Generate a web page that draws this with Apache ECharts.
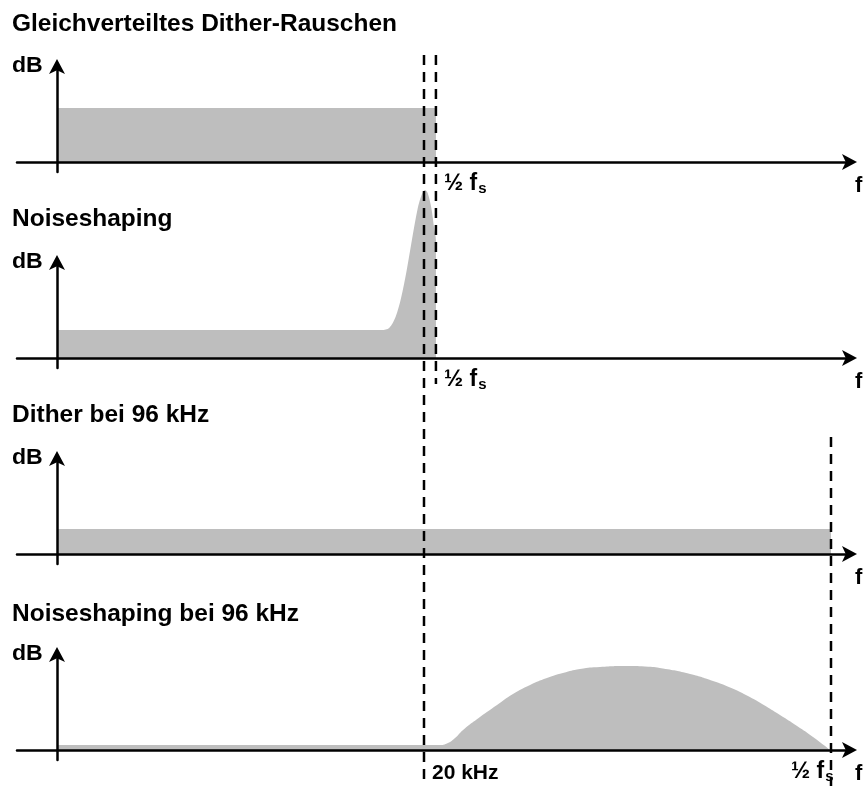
<!DOCTYPE html>
<html>
<head>
<meta charset="utf-8">
<script src="https://cdn.jsdelivr.net/npm/echarts@6/dist/echarts.min.js"></script>
<style>
html,body{margin:0;padding:0;background:#fff;}
#chart{width:863px;height:790px;}
</style>
</head>
<body>
<div id="chart"></div>
<script>
// ---------- DATA ----------
const panelTitles = ['Gleichverteiltes Dither-Rauschen', 'Noiseshaping', 'Dither bei 96 kHz', 'Noiseshaping bei 96 kHz'];
const yAxisName = 'dB';
const xAxisName = 'f';
const nyquistLabel = '½ f';
const nyquistSub = 's';
const label20k = '20 kHz';
// reference frequencies (relative frequency units, 20 kHz = 20)
const f20k = 20;
const nyq44 = 20.65;
const nyq96 = 42.18;
// spectra: [frequency, level]
const ditherFlat = [[0, 5.4], [20.65, 5.4], [20.65, 0]];
const noiseShaping = [[0, 2.8], [17.7, 2.8], [18.1, 3.0], [18.45, 4.1], [18.75, 6.0], [19.05, 8.7], [19.35, 11.9], [19.65, 14.9], [19.85, 16.2], [20.05, 16.8], [20.2, 16.5], [20.4, 15.0], [20.55, 13.0], [20.65, 11.8], [20.65, 0]];
const dither96 = [[0, 2.5], [42.18, 2.5], [42.18, 0]];
const noiseShaping96 = [[0, 0.5], [20.87, 0.5], [21.25, 0.65], [21.69, 1.2], [22.13, 2.0], [23.05, 3.3], [23.98, 4.5], [24.85, 5.6], [25.78, 6.5], [26.7, 7.2], [27.57, 7.7], [28.5, 8.1], [29.59, 8.3], [31.06, 8.4], [32.04, 8.35], [33.02, 8.15], [34.5, 7.6], [35.75, 6.9], [36.68, 6.25], [37.6, 5.45], [38.47, 4.55], [39.4, 3.5], [40.33, 2.4], [41.2, 1.3], [42.13, 0]];

// ---------- LAYOUT ----------
const W = 863, H = 790;
const xMin = -2.18, xMax = 43.27;
const gridLeft = 17, gridRight = 12;
const baselines = [162, 358, 554, 750];
const yMin = -1, yMax = 9.7, pxPerUnit = 10;
const fillColor = '#bebebe';
const FONT = '"Liberation Sans", Arial, Helvetica, sans-serif';

const grids = [], xAxes = [], yAxes = [], series = [];
const spectra = [ditherFlat, noiseShaping, dither96, noiseShaping96];

baselines.forEach((b, i) => {
  grids.push({ left: gridLeft, right: gridRight, top: b - yMax * pxPerUnit, height: (yMax - yMin) * pxPerUnit });
  xAxes.push({
    gridIndex: i, type: 'value', min: xMin, max: xMax, z: 10,
    axisLine: { onZero: true, lineStyle: { color: '#000', width: 2.5 }, symbol: ['none', 'arrow'], symbolSize: [12, 15], symbolOffset: [0, 6] },
    axisTick: { show: false }, axisLabel: { show: false }, splitLine: { show: false }
  });
  yAxes.push({
    gridIndex: i, type: 'value', min: yMin, max: yMax, z: 10,
    axisLine: { onZero: true, lineStyle: { color: '#000', width: 2.5 }, symbol: ['none', 'arrow'], symbolSize: [12, 15], symbolOffset: [0, 6] },
    axisTick: { show: false }, axisLabel: { show: false }, splitLine: { show: false }
  });
  series.push({
    type: 'line', xAxisIndex: i, yAxisIndex: i, data: spectra[i],
    smooth: i === 1 ? 0.3 : (i === 3 ? 0.55 : false),
    symbol: 'none', clip: false, silent: true,
    lineStyle: { width: 0, color: fillColor },
    areaStyle: { color: fillColor, opacity: 1 }, z: 2
  });
});

// overlay grid (full page, y in page units) for dashed reference lines spanning panels
grids.push({ left: gridLeft, right: gridRight, top: 0, bottom: 0 });
xAxes.push({ gridIndex: 4, type: 'value', min: xMin, max: xMax, show: false });
yAxes.push({ gridIndex: 4, type: 'value', min: 0, max: H, inverse: true, show: false });
const refLines = [
  { f: f20k, span: [55, 782] },
  { f: nyq44, span: [55, 384] },
  { f: nyq96, span: [437, 786] }
];
refLines.forEach(r => {
  series.push({
    type: 'line', xAxisIndex: 4, yAxisIndex: 4, symbol: 'none', silent: true, z: 20,
    data: [[r.f, r.span[0]], [r.f, r.span[1]]],
    lineStyle: { color: '#000', width: 2.5, type: [10, 7] }
  });
});

// text
const graphic = [];
const titleY = [24, 219, 415, 614];
panelTitles.forEach((t, i) => {
  graphic.push({ type: 'text', x: 12, y: titleY[i], scaleX: 1.02, style: { text: t, font: 'bold 24px ' + FONT, fill: '#000', verticalAlign: 'middle' } });
});
baselines.forEach((b, i) => {
  graphic.push({ type: 'text', x: 12, y: b - 96, scaleX: 1.05, style: { text: yAxisName, font: 'bold 22px ' + FONT, fill: '#000', verticalAlign: 'middle' } });
  graphic.push({ type: 'text', x: 855, y: b + 24, style: { text: xAxisName, font: 'bold 22px ' + FONT, fill: '#000', verticalAlign: 'middle' } });
});
function nyqText(x, y) {
  return { type: 'text', x: x, y: y, style: {
    text: '{a|' + nyquistLabel + '}{s|' + nyquistSub + '}', verticalAlign: 'middle', fill: '#000',
    rich: { a: { font: 'bold 23px ' + FONT, fill: '#000', lineHeight: 26 }, s: { font: 'bold 15px ' + FONT, fill: '#000', lineHeight: 26, padding: [10, 0, 0, 1] } }
  } };
}
graphic.push(nyqText(444, baselines[0] + 22));
graphic.push(nyqText(444, baselines[1] + 22));
graphic.push(nyqText(791, baselines[3] + 22));
graphic.push({ type: 'text', x: 432, y: baselines[3] + 23, style: { text: label20k, font: 'bold 21px ' + FONT, fill: '#000', verticalAlign: 'middle' } });

const chart = echarts.init(document.getElementById('chart'), null, { renderer: 'canvas' });
chart.setOption({
  animation: false,
  backgroundColor: '#fff',
  grid: grids, xAxis: xAxes, yAxis: yAxes, series: series, graphic: graphic
});
</script>
</body>
</html>
